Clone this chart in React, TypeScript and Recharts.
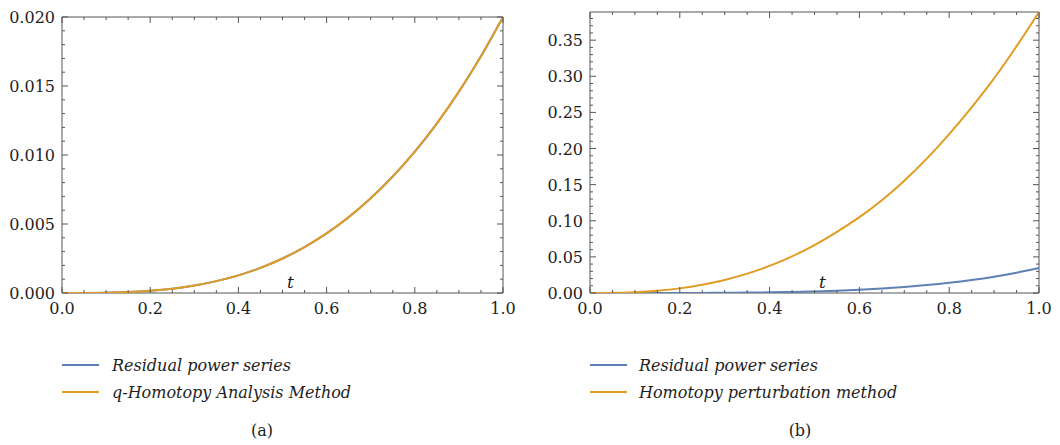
import { LineChart, Line, XAxis, YAxis, ReferenceArea, Label } from "recharts";

// t values (shared by both panels)
const tValues = [0, 0.05, 0.1, 0.15, 0.2, 0.25, 0.3, 0.35, 0.4, 0.45, 0.5, 0.55, 0.6, 0.65, 0.7, 0.75, 0.8, 0.85, 0.9, 0.95, 1.0];

// panel (a)
const rpsA = [0, 0.0000025, 0.00002, 0.000067, 0.00016, 0.00031, 0.00054, 0.00086, 0.00128, 0.00182, 0.0025, 0.00333, 0.00432, 0.00549, 0.00686, 0.00844, 0.01024, 0.01228, 0.01458, 0.01715, 0.02];
const qhamA = [0, 0.0000025, 0.00002, 0.000068, 0.00016, 0.00031, 0.00054, 0.00086, 0.00128, 0.00182, 0.0025, 0.00333, 0.00432, 0.0055, 0.00687, 0.00845, 0.01025, 0.01229, 0.01459, 0.01716, 0.02];

// panel (b)
const rpsB = [0, 0, 0.0000035, 0.0000175, 0.000055, 0.000135, 0.00028, 0.00052, 0.00088, 0.00141, 0.00216, 0.00316, 0.00447, 0.00616, 0.00828, 0.01092, 0.01413, 0.01801, 0.02263, 0.0281, 0.0345];
const hpmB = [0, 0.00019, 0.0011, 0.0031, 0.0064, 0.0114, 0.0181, 0.0268, 0.0376, 0.0508, 0.0664, 0.0847, 0.1050, 0.1285, 0.1555, 0.1860, 0.2200, 0.2570, 0.2970, 0.3415, 0.389];

const xMajor = [0, 0.2, 0.4, 0.6, 0.8, 1.0];
const yMajorA = [0, 0.005, 0.01, 0.015, 0.02];
const yMajorB = [0, 0.05, 0.1, 0.15, 0.2, 0.25, 0.3, 0.35];

const xMinor = Array.from({ length: 21 }, (_, i) => +(i * 0.05).toFixed(2));
const yMinorA = Array.from({ length: 21 }, (_, i) => +(i * 0.001).toFixed(3));
const yMinorB = Array.from({ length: 39 }, (_, i) => +(i * 0.01).toFixed(2));

const dataA = tValues.map((t, i) => ({ t, rps: rpsA[i], other: qhamA[i] }));
const dataB = tValues.map((t, i) => ({ t, rps: rpsB[i], other: hpmB[i] }));

const BLUE = "#5E81B5";
const ORANGE = "#E19C24";
const FRAME = "#555";
const TEXT = "#1e1e1e";
const FONT = "DejaVu Serif, serif";

const isIn = (list: number[], v: number) => list.some((m) => Math.abs(m - v) < 1e-9);

const makeXTick = (plotH: number) => (props: any) => {
  const { x, y, payload } = props;
  const major = isIn(xMajor, payload.value);
  const len = major ? 6 : 3;
  return (
    <g>
      <line x1={x} x2={x} y1={y} y2={y - len} stroke={FRAME} />
      <line x1={x} x2={x} y1={y - plotH} y2={y - plotH + len} stroke={FRAME} />
      {major && (
        <text x={x} y={y + 21} textAnchor="middle" fill={TEXT} style={{ fontFamily: FONT, fontSize: 16 }}>
          {payload.value.toFixed(1)}
        </text>
      )}
    </g>
  );
};

const makeYTick = (plotW: number, majors: number[], digits: number) => (props: any) => {
  const { x, y, payload } = props;
  const major = isIn(majors, payload.value);
  const len = major ? 6 : 3;
  return (
    <g>
      <line x1={x} x2={x + len} y1={y} y2={y} stroke={FRAME} />
      <line x1={x + plotW} x2={x + plotW - len} y1={y} y2={y} stroke={FRAME} />
      {major && (
        <text x={x - 7} y={y + 6} textAnchor="end" fill={TEXT} style={{ fontFamily: FONT, fontSize: 16 }}>
          {payload.value.toFixed(digits)}
        </text>
      )}
    </g>
  );
};

function Panel(props: {
  data: any[];
  yMax: number;
  yTicks: number[];
  yMajor: number[];
  digits: number;
  left: number;
  top: number;
  plotLeft: number;
  plotRight: number;
}) {
  const W = 530;
  const H = 330;
  const bottom = 293;
  const plotW = props.plotRight - props.plotLeft;
  const plotH = bottom - props.top;
  return (
    <div style={{ position: "absolute", left: props.left, top: 0 }}>
      <LineChart
        width={W}
        height={H}
        data={props.data}
        margin={{ top: props.top, right: W - props.plotRight, left: 0, bottom: 0 }}
      >
        <XAxis
          dataKey="t"
          type="number"
          domain={[0, 1]}
          ticks={xMinor}
          interval={0}
          height={H - bottom}
          tickSize={0}
          tickMargin={0}
          axisLine={false}
          tickLine={false}
          tick={makeXTick(plotH)}
        >
          <Label
            content={({ viewBox }: any) => (
              <text
                x={viewBox.x + viewBox.width / 2 + 8}
                y={viewBox.y - 5}
                textAnchor="middle"
                fill={TEXT}
                style={{ fontFamily: FONT, fontSize: 17, fontStyle: "italic" }}
              >
                t
              </text>
            )}
          />
        </XAxis>
        <YAxis
          type="number"
          domain={[0, props.yMax]}
          ticks={props.yTicks}
          interval={0}
          width={props.plotLeft}
          tickSize={0}
          tickMargin={0}
          axisLine={false}
          tickLine={false}
          tick={makeYTick(plotW, props.yMajor, props.digits)}
          allowDataOverflow
        />
        <ReferenceArea x1={0} x2={1} y1={0} y2={props.yMax} fill="none" stroke={FRAME} strokeWidth={1} />
        <Line type="monotone" dataKey="rps" stroke={BLUE} strokeWidth={2} dot={false} isAnimationActive={false} />
        <Line type="monotone" dataKey="other" stroke={ORANGE} strokeWidth={2} dot={false} isAnimationActive={false} />
      </LineChart>
    </div>
  );
}

function LegendBlock(props: { left: number; lineLeft: number; labels: string[]; caption: string; captionX: number }) {
  const colors = [BLUE, ORANGE];
  return (
    <>
      {props.labels.map((lab, i) => (
        <div key={lab} style={{ position: "absolute", top: 353 + i * 27, left: props.lineLeft, height: 24, display: "flex", alignItems: "center" }}>
          <div style={{ width: 37, height: 2, background: colors[i] }} />
          <span
            style={{
              position: "absolute",
              left: props.left - props.lineLeft,
              whiteSpace: "nowrap",
              fontFamily: FONT,
              fontStyle: "italic",
              fontSize: 16,
              color: TEXT,
            }}
          >
            {lab}
          </span>
        </div>
      ))}
      <div
        style={{
          position: "absolute",
          top: 421,
          left: props.captionX - 40,
          width: 80,
          textAlign: "center",
          fontFamily: FONT,
          fontSize: 16,
          color: TEXT,
        }}
      >
        {props.caption}
      </div>
    </>
  );
}

export default function App() {
  return (
    <div style={{ position: "absolute", left: 0, top: 0, width: 1060, height: 445, background: "#fff", overflow: "hidden" }}>
      <Panel data={dataA} yMax={0.02} yTicks={yMinorA} yMajor={yMajorA} digits={3} left={0} top={17} plotLeft={62} plotRight={503} />
      <Panel data={dataB} yMax={0.389} yTicks={yMinorB} yMajor={yMajorB} digits={2} left={530} top={12} plotLeft={60} plotRight={509} />
      <LegendBlock left={112} lineLeft={62} labels={["Residual power series", "q-Homotopy Analysis Method"]} caption="(a)" captionX={262} />
      <LegendBlock left={639} lineLeft={590} labels={["Residual power series", "Homotopy perturbation method"]} caption="(b)" captionX={800} />
    </div>
  );
}
